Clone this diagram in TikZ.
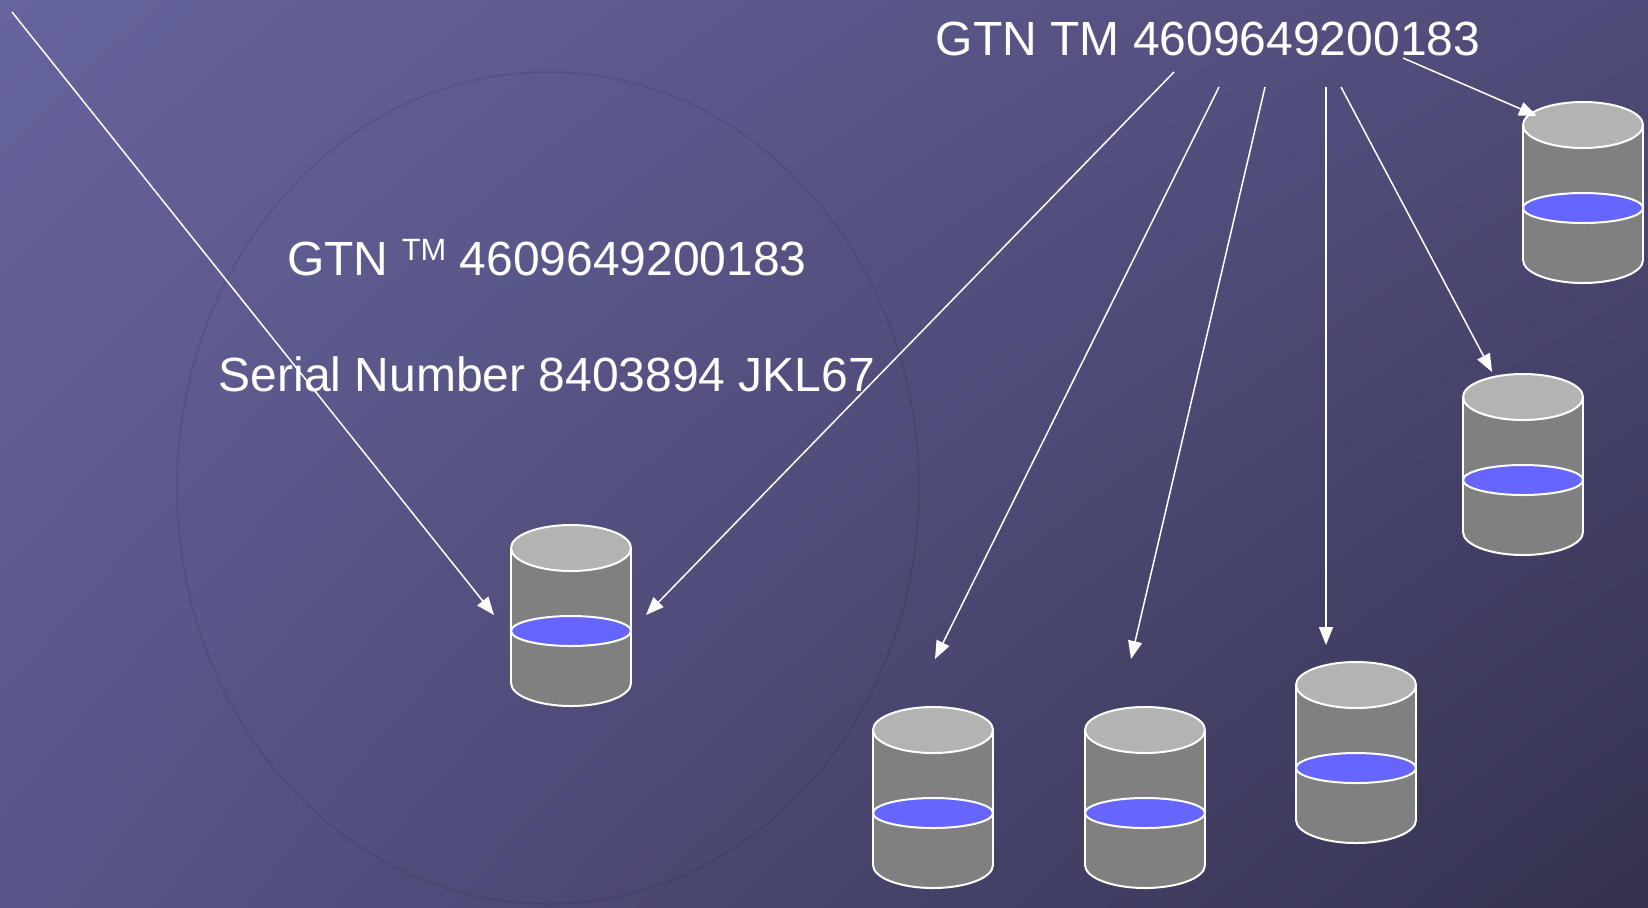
\documentclass[tikz,border=0pt]{standalone}
\usepackage{fontspec}
\setmainfont{Liberation Sans}
\usetikzlibrary{arrows.meta,shadings}
\definecolor{bgTL}{RGB}{102,100,157}
\definecolor{bgTR}{RGB}{79,75,120}
\definecolor{bgBL}{RGB}{89,85,136}
\definecolor{bgBR}{RGB}{52,50,79}
\definecolor{drumgray}{RGB}{128,128,128}
\definecolor{drumlid}{RGB}{179,179,179}
\definecolor{drumband}{RGB}{102,102,255}
\tikzset{
  link/.style={draw=white, line width=0.75pt, -{Triangle[length=9pt,width=7pt]}},
  drumline/.style={draw=white, line width=1pt},
  label/.style={text=white, font=\fontsize{24}{28}\selectfont, anchor=base, inner sep=0pt},
}

\begin{document}
\begin{tikzpicture}[x=0.5pt, y=-0.5pt]
    \useasboundingbox (0,0) rectangle (1648,907);
    \shade[upper left=bgTL, upper right=bgTR, lower left=bgBL, lower right=bgBR] (0,0) rectangle (1648,907);
    \draw[black, opacity=0.1, line width=0.75pt] (548,488) ellipse [x radius=371, y radius=416];

    % drums
    \foreach \n/\cx/\cy in {m/571/548, a/933/730, b/1145/730, c/1356/685, d/1523/397, e/1583/125} {
        \coordinate (\n) at (\cx,\cy);
        \filldraw[fill=drumgray, drumline] (\cx,\cy+135) ellipse [x radius=60, y radius=23];
        \fill[drumgray] (\cx-60,\cy) rectangle (\cx+60,\cy+135);
        \draw[drumline] (\cx-60,\cy) -- (\cx-60,\cy+135) (\cx+60,\cy) -- (\cx+60,\cy+135);
        \filldraw[fill=drumband, drumline] (\cx,\cy+83) ellipse [x radius=60, y radius=15];
        \filldraw[fill=drumlid, drumline] (\cx,\cy) ellipse [x radius=60, y radius=23];
    }

    \node[label] (gtntop) at (1208,55) {GTN TM 4609649200183};
    \node[label] (gtnmid) at (547,275) {GTN \raisebox{7.4pt}{\fontsize{15.4}{16}\selectfont TM} 4609649200183};
    \node[label] (serial) at (547,391) {Serial Number 8403894 JKL67};

    \coordinate (s1) at (12,12);
    \coordinate (s2) at (1174,72);
    \coordinate (s3) at (1219,87);
    \coordinate (s4) at (1265,87);
    \coordinate (s5) at (1326,87);
    \coordinate (s6) at (1341,87);
    \coordinate (s7) at (1403,58);
    \coordinate (t1) at (494,615);
    \coordinate (t2) at (646,615);
    \coordinate (t3) at (935,659);
    \coordinate (t4) at (1131,659);
    \coordinate (t5) at (1326,645);
    \coordinate (t6) at (1492,372);
    \coordinate (t7) at (1537,116);
    \foreach \i in {1,...,7}
        \draw[link] (s\i) -- (t\i);
\end{tikzpicture}
\end{document}
